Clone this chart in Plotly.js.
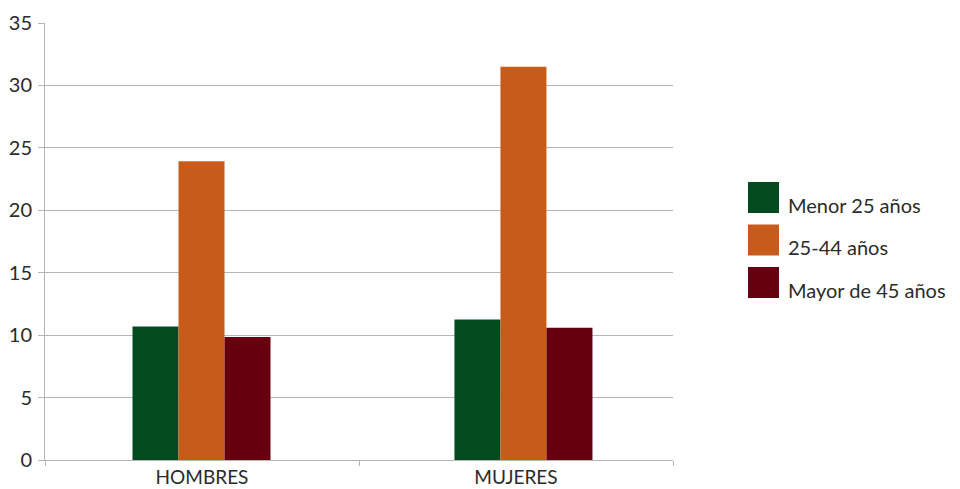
<!DOCTYPE html>
<html><head><meta charset="utf-8">
<script src="https://cdn.plot.ly/plotly-3.0.1.min.js"></script>
<style>html,body{margin:0;padding:0;background:#fff}#chart{width:960px;height:489px}</style>
</head><body><div id="chart"></div>
<script>
const categories = ["HOMBRES", "MUJERES"];
const seriesNames = ["Menor 25 años", "25-44 años", "Mayor de 45 años"];
const menor25 = [10.7, 11.25];
const de25a44 = [23.93, 31.5];
const mayor45 = [9.85, 10.6];
const yTicks = [0, 5, 10, 15, 20, 25, 30, 35];
const colors = ["#034a1e", "#c75c1a", "#660010"];

const values = [menor25, de25a44, mayor45];
const FONT = "Lato, 'Open Sans', sans-serif";
const barW = 46 / 628 * 2;          // width in category units
const groupStart = [-0.2213, -0.196]; // per-category group offset (as in the reference)
const traces = values.map((v, i) => ({
  type: "bar", x: categories, y: v, name: seriesNames[i],
  width: barW, offset: groupStart.map(g => g + i * barW),
  marker: {color: colors[i], line: {width: 0}}, showlegend: false, hoverinfo: "skip"
}));

const shapes = [], annotations = [];
seriesNames.forEach((n, i) => {
  const top = 182 + i * 42.5;
  shapes.push({type: "rect", xref: "paper", yref: "paper",
    x0: (748 - 45) / 628, x1: (779 - 45) / 628,
    y0: (460 - top) / 437, y1: (460 - top - 31) / 437,
    fillcolor: colors[i], line: {width: 0}});
  annotations.push({xref: "paper", yref: "paper", x: (786 - 45) / 628, y: (460 - (top + 23)) / 437,
    xanchor: "left", yanchor: "middle", text: n, showarrow: false,
    font: {family: FONT, size: 20, color: "#2b2b2b"}});
});

const layout = {
  width: 960, height: 489,
  margin: {l: 45, r: 287, t: 23, b: 29},
  paper_bgcolor: "#fff", plot_bgcolor: "#fff",
  barmode: "group", bargap: 0.56, bargroupgap: 0,
  showlegend: false,
  font: {family: FONT, color: "#2b2b2b"},
  xaxis: {type: "category", tickson: "boundaries", ticks: "outside", ticklen: 5,
    tickcolor: "#b5b5b5", showline: true, linecolor: "#b5b5b5", linewidth: 1,
    showgrid: false, tickfont: {family: FONT, size: 19, color: "#2b2b2b"}, fixedrange: true},
  yaxis: {range: [0, 35], tickvals: yTicks, ticktext: yTicks.map(String),
    ticks: "outside", ticklen: 6, tickcolor: "#b5b5b5", showline: true, linecolor: "#b5b5b5",
    gridcolor: "#b5b5b5", gridwidth: 1, zeroline: false,
    tickfont: {family: FONT, size: 20, color: "#2b2b2b"}, ticklabelstandoff: 2, fixedrange: true},
  shapes: shapes, annotations: annotations
};
Plotly.newPlot("chart", traces, layout, {displayModeBar: false, staticPlot: true});
</script></body></html>
